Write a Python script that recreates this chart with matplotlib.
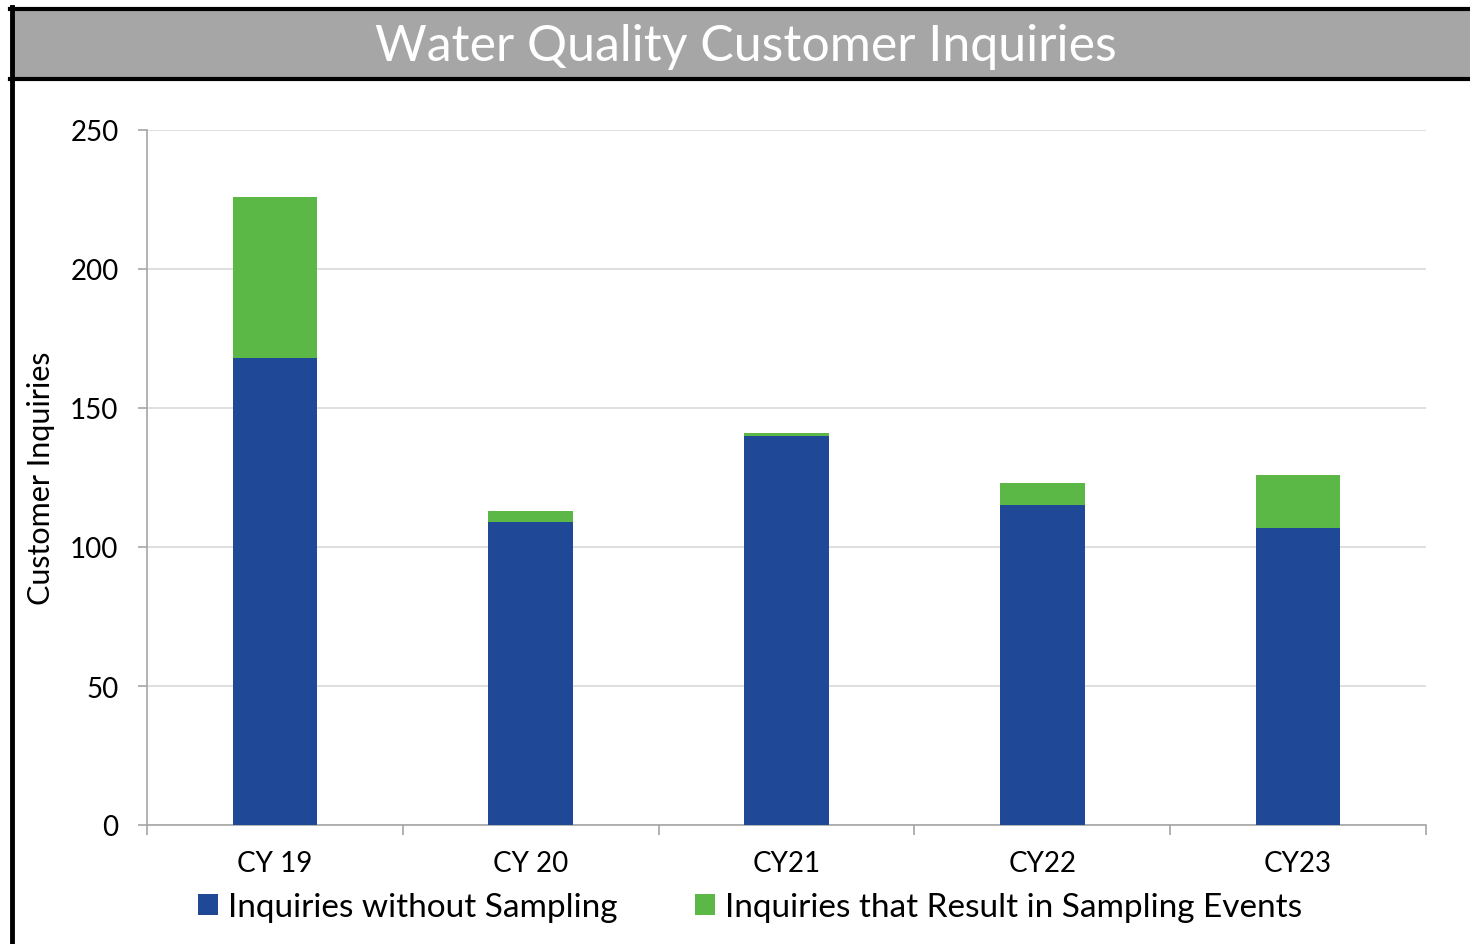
import matplotlib.pyplot as plt
from matplotlib.patches import Rectangle
from matplotlib.lines import Line2D
import numpy as np

plt.rcParams['font.family'] = ['Lato', 'DejaVu Sans']

categories = ['CY 19', 'CY 20', 'CY21', 'CY22', 'CY23']
no_sampling = [168, 109, 140, 115, 107]
with_sampling = [58, 4, 1, 8, 19]
series_names = ['Inquiries without Sampling', 'Inquiries that Result in Sampling Events']

blue = '#1F4896'
green = '#5BB847'

fig = plt.figure(figsize=(14.7, 9.45), dpi=100)

# title bar and frame
fig.add_artist(Rectangle((12 / 1470, 1 - 80 / 945), 1, 70 / 945, transform=fig.transFigure,
                         facecolor='#A6A6A6', edgecolor='none'))
fig.add_artist(Line2D([10 / 1470, 1], [1 - 9.5 / 945] * 2, transform=fig.transFigure, color='black', lw=3))
fig.add_artist(Line2D([10 / 1470, 1], [1 - 79.5 / 945] * 2, transform=fig.transFigure, color='black', lw=3))
fig.add_artist(Line2D([12 / 1470] * 2, [0, 1 - 8 / 945], transform=fig.transFigure, color='black', lw=3.5))
fig.text(746 / 1470, 1 - 47 / 945, 'Water Quality Customer Inquiries', color='white',
         fontsize=36, ha='center', va='center')

ax = fig.add_axes([147 / 1470, 1 - 826 / 945, 1279 / 1470, 695 / 945])
x = np.arange(len(categories))
ax.bar(x, no_sampling, width=0.33, color=blue, label=series_names[0], zorder=3)
ax.bar(x, with_sampling, width=0.33, bottom=no_sampling, color=green, label=series_names[1], zorder=3)

ax.set_xlim(-0.5, len(categories) - 0.5)
ax.set_ylim(0, 250)
ax.set_yticks(range(0, 251, 50))
ax.yaxis.grid(True, color='#D9D9D9', lw=1.2, zorder=0)
ax.set_xticks(x)
ax.set_xticklabels(categories, fontsize=20)
ax.set_xticks(np.arange(-0.5, len(categories), 1), minor=True)
ax.tick_params(axis='x', which='major', length=0, pad=18)
ax.tick_params(axis='x', which='minor', length=7, color='#A6A6A6', width=1.2)
ax.tick_params(axis='y', length=6.5, color='#A6A6A6', width=1.2, labelsize=20, pad=14)
for s in ['top', 'right']:
    ax.spines[s].set_visible(False)
for s in ['left', 'bottom']:
    ax.spines[s].set_color('#A6A6A6')
    ax.spines[s].set_linewidth(1.2)
ax.set_ylabel('Customer Inquiries', fontsize=22)
ax.yaxis.set_label_coords(-0.072, 0.5)

fig.legend(loc='center', bbox_to_anchor=(750 / 1470, 1 - 908 / 945), ncol=2, frameon=False,
           fontsize=24, handlelength=0.6, handleheight=0.6, handletextpad=0.3, columnspacing=2.3)

fig.savefig('out.png', dpi=100)
